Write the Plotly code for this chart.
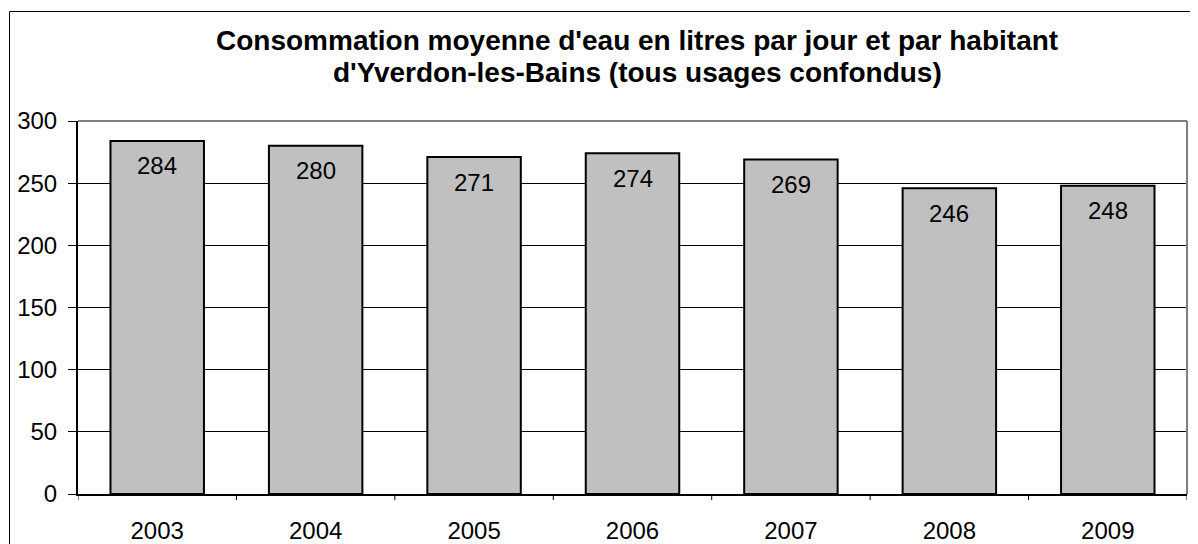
import plotly.graph_objects as go

years = ["2003", "2004", "2005", "2006", "2007", "2008", "2009"]
values = [284, 280, 271, 274, 269, 246, 248]
title_lines = ["Consommation moyenne d'eau en litres par jour et par habitant",
               "d'Yverdon-les-Bains (tous usages confondus)"]
y_ticks = [0, 50, 100, 150, 200, 250, 300]

# page body adds an 8px offset; figure coordinates = screen - 8
OFF = 8
W, H = 1198 - OFF, 544 - OFF
L, R, T, B = 78 - OFF, 11, 121 - OFF, 50
pw, ph = W - L - R, H - T - B

font = "Liberation Sans, Arial, sans-serif"

fig = go.Figure(go.Bar(
    x=list(range(len(years))), y=values,
    marker=dict(color="#C0C0C0", line=dict(color="black", width=2)),
    hoverinfo="skip",
))

annotations = []
for i, v in enumerate(values):
    annotations.append(dict(x=i, y=v, xref="x", yref="y", text=str(v),
                            showarrow=False, yanchor="middle", yshift=-25,
                            font=dict(family=font, size=24, color="black")))
cx = (637 - OFF - L) / pw
for i, line in enumerate(title_lines):
    yc = [40, 73][i] - OFF
    annotations.append(dict(x=cx, y=(H - B - yc) / ph, xref="paper", yref="paper",
                            text="<b>" + line + "</b>", showarrow=False,
                            xanchor="center", yanchor="middle",
                            font=dict(family=font, size=28, color="black")))

shapes = [
    # outer border
    dict(type="rect", xref="paper", yref="paper",
         x0=(9.5 - OFF - L) / pw, x1=1.2, y0=-0.5, y1=(H - B - (11.5 - OFF)) / ph,
         line=dict(color="black", width=1), fillcolor="rgba(0,0,0,0)", layer="above"),
    # plot area top and right borders (gray)
    dict(type="line", xref="paper", yref="paper", x0=0, x1=1, y0=1, y1=1,
         line=dict(color="#808080", width=2), layer="above"),
    dict(type="line", xref="paper", yref="paper", x0=1, x1=1, y0=0, y1=1,
         line=dict(color="#808080", width=2), layer="above"),
]
# tick marks on category boundaries
for k in range(len(years) + 1):
    shapes.append(dict(type="line", xref="x", yref="paper", x0=k - 0.5, x1=k - 0.5,
                       y0=0, y1=-6 / ph, line=dict(color="black", width=1), layer="above"))

fig.update_layout(
    width=W, height=H,
    margin=dict(l=L, r=R, t=T, b=B, pad=0, autoexpand=False),
    paper_bgcolor="white", plot_bgcolor="white",
    bargap=0.41,
    showlegend=False,
    annotations=annotations,
    shapes=shapes,
    font=dict(family=font, size=24, color="black"),
    xaxis=dict(type="linear", showgrid=False, showline=True, linecolor="black", linewidth=2,
               tickvals=list(range(len(years))), ticktext=years, automargin=False,
               ticks="", range=[-0.5, 6.5], fixedrange=True, zeroline=False,
               tickfont=dict(family=font, size=24, color="black"), ticklabelstandoff=14),
    yaxis=dict(range=[0, 300], tickvals=y_ticks, showgrid=True, gridcolor="black", gridwidth=1,
               showline=True, linecolor="black", linewidth=2, zeroline=False, automargin=False,
               ticks="outside", ticklen=8, tickcolor="black", tickwidth=1,
               tickfont=dict(family=font, size=24, color="black"), ticklabelstandoff=6,
               fixedrange=True),
)

fig.write_html("out.html", config={"displayModeBar": False})
